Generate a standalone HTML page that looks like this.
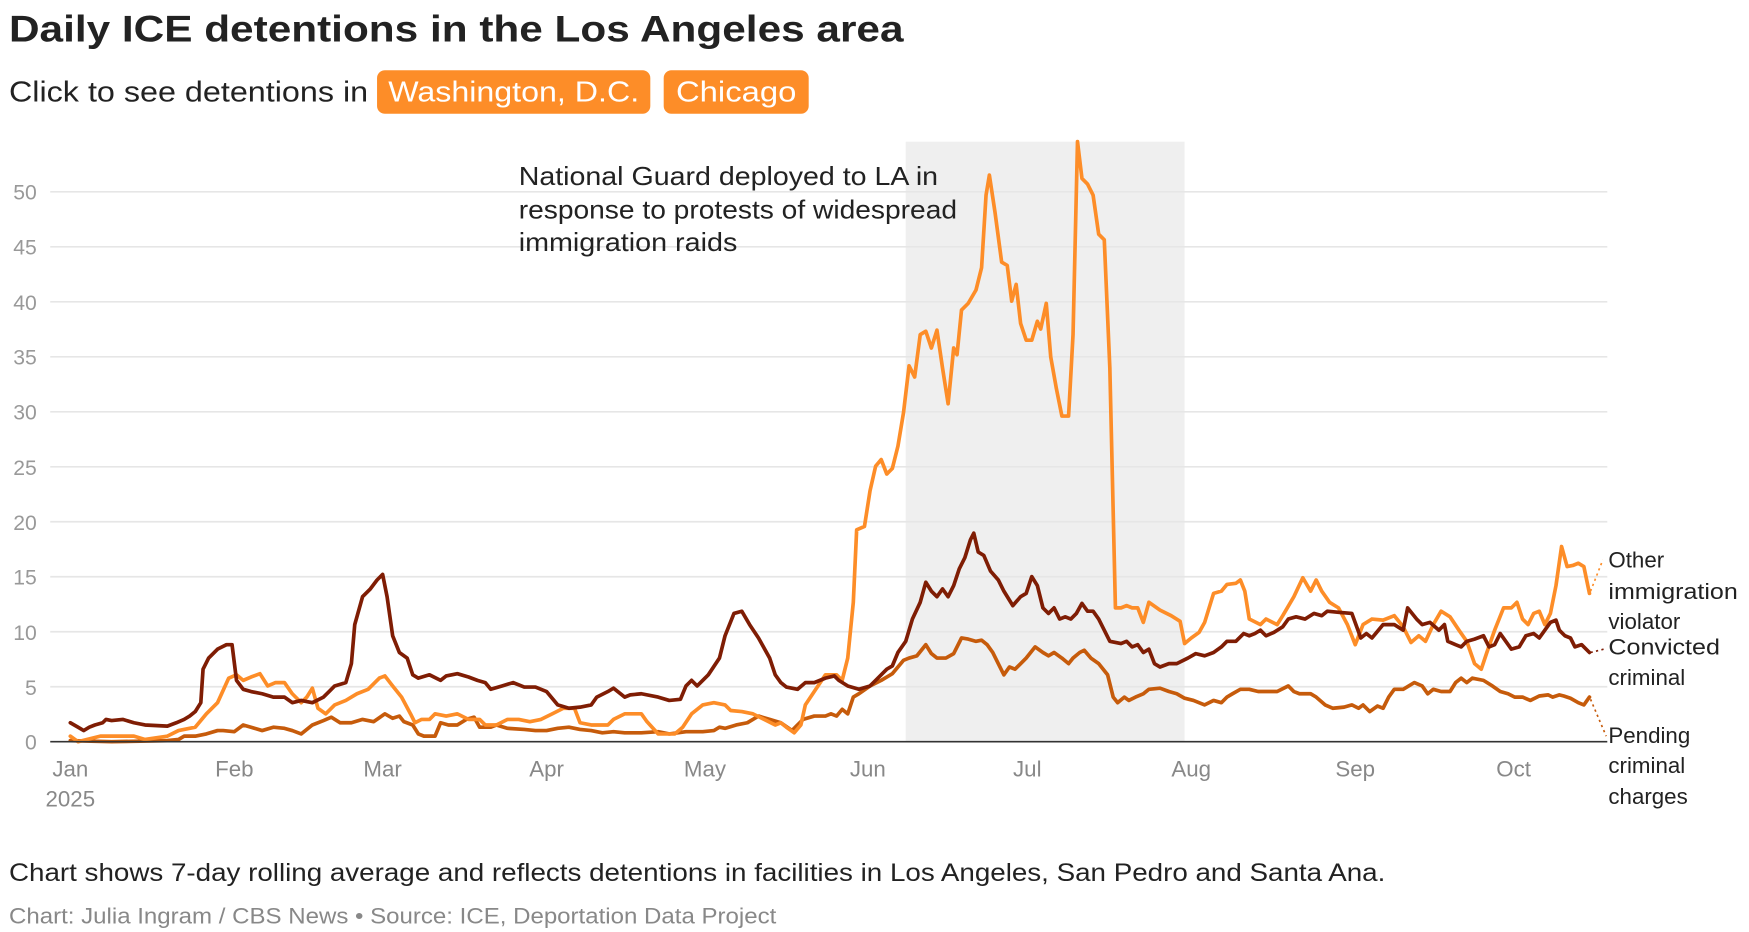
<!DOCTYPE html>
<html><head><meta charset="utf-8"><style>html,body{margin:0;padding:0;background:#fff}svg{display:block}</style></head>
<body>
<svg width="1749" height="932" viewBox="0 0 1568 835.6" xmlns="http://www.w3.org/2000/svg" font-family="'Liberation Sans', sans-serif">
<text x="8" y="37" font-size="33" font-weight="bold" fill="#222" textLength="802" lengthAdjust="spacingAndGlyphs">Daily ICE detentions in the Los Angeles area</text>
<text x="8" y="91" font-size="26" fill="#222" textLength="322" lengthAdjust="spacingAndGlyphs">Click to see detentions in</text>
<rect x="338" y="63" width="245" height="39" rx="7" fill="#fd8d28"/>
<text x="460.5" y="91" font-size="26" fill="#fff" text-anchor="middle" textLength="225" lengthAdjust="spacingAndGlyphs">Washington, D.C.</text>
<rect x="595" y="63" width="130" height="39" rx="7" fill="#fd8d28"/>
<text x="660" y="91" font-size="26" fill="#fff" text-anchor="middle" textLength="108" lengthAdjust="spacingAndGlyphs">Chicago</text>

<rect x="812" y="127" width="250" height="538" fill="#efefef"/>
<g stroke="#e6e6e6" stroke-width="1.5">
<line x1="45" x2="1441" y1="172" y2="172"/><line x1="45" x2="1441" y1="221.3" y2="221.3"/>
<line x1="45" x2="1441" y1="270.6" y2="270.6"/><line x1="45" x2="1441" y1="319.9" y2="319.9"/>
<line x1="45" x2="1441" y1="369.2" y2="369.2"/><line x1="45" x2="1441" y1="418.5" y2="418.5"/>
<line x1="45" x2="1441" y1="467.8" y2="467.8"/><line x1="45" x2="1441" y1="517.1" y2="517.1"/>
<line x1="45" x2="1441" y1="566.4" y2="566.4"/><line x1="45" x2="1441" y1="615.7" y2="615.7"/>
</g>
<g font-size="19" fill="#999" text-anchor="end">
<text x="33" y="179">50</text><text x="33" y="228">45</text><text x="33" y="278">40</text>
<text x="33" y="327">35</text><text x="33" y="376">30</text><text x="33" y="426">25</text>
<text x="33" y="475">20</text><text x="33" y="524">15</text><text x="33" y="574">10</text>
<text x="33" y="623">5</text><text x="33" y="672">0</text>
</g>
<g font-size="20" fill="#888" text-anchor="middle">
<text x="63" y="696">Jan</text><text x="63" y="723">2025</text>
<text x="210" y="696">Feb</text><text x="343" y="696">Mar</text><text x="490" y="696">Apr</text>
<text x="632" y="696">May</text><text x="778" y="696">Jun</text><text x="921" y="696">Jul</text>
<text x="1068" y="696">Aug</text><text x="1215" y="696">Sep</text><text x="1357" y="696">Oct</text>
</g>
<g font-size="23" fill="#222">
<text x="465" y="166" textLength="376" lengthAdjust="spacingAndGlyphs">National Guard deployed to LA in</text>
<text x="465" y="196" textLength="393" lengthAdjust="spacingAndGlyphs">response to protests of widespread</text>
<text x="465" y="225" textLength="196" lengthAdjust="spacingAndGlyphs">immigration raids</text>
</g>

<g fill="none" stroke-width="3.3" stroke-linejoin="round" stroke-linecap="round">
<polyline stroke="#c65b0b" points="63,664 100,665 150,664 160,663 165,660 175,660 185,658 195,655 200,655 210,656 218,650 225,652 235,655 245,652 255,653 262,655 270,658 280,650 290,646 297,643 305,648 315,648 325,645 335,647 345,640 352,644 358,642 362,647 370,650 375,658 380,660 390,660 395,648 402,650 410,650 418,645 425,643 430,652 440,652 445,650 455,653 470,654 480,655 490,655 500,653 510,652 520,654 530,655 540,657 550,656 560,657 575,657 590,656 600,658 615,656 630,656 640,655 645,652 650,653 660,650 670,648 680,642 690,645 700,648 710,655 715,650 720,645 730,642 740,642 745,640 750,642 755,636 760,640 765,625 770,622 780,615 790,610 800,604 810,592 815,590 822,588 830,578 835,586 840,590 848,590 855,586 862,572 868,573 875,575 880,574 885,578 890,585 895,595 900,605 905,598 910,600 915,595 920,590 928,580 935,585 940,588 945,585 952,590 958,595 962,590 968,585 972,583 978,590 985,595 993,605 998,625 1002,630 1008,625 1012,628 1018,625 1025,622 1030,618 1040,617 1048,620 1055,622 1062,626 1070,628 1075,630 1080,632 1088,628 1095,630 1100,625 1105,622 1112,618 1120,618 1128,620 1135,620 1145,620 1155,615 1160,620 1165,622 1175,622 1180,625 1188,632 1195,635 1205,634 1212,632 1218,635 1222,632 1228,638 1235,633 1240,635 1245,625 1250,618 1258,618 1268,612 1275,615 1280,622 1285,618 1292,620 1300,620 1305,612 1310,608 1315,612 1320,608 1330,610 1338,615 1345,620 1352,622 1358,625 1365,625 1372,628 1380,624 1388,623 1392,625 1398,623 1402,624 1408,626 1415,630 1420,632 1425,625"/>
<polyline stroke="#fd8d28" points="63,660 70,665 90,660 120,660 130,663 150,660 160,655 175,652 185,640 195,630 205,608 212,605 218,610 225,607 233,604 240,615 247,612 255,612 262,622 270,630 275,625 280,617 285,635 292,640 300,632 310,628 320,622 330,618 340,608 345,606 352,615 360,625 368,640 372,648 378,645 385,645 390,640 400,642 410,640 420,645 430,645 435,650 445,650 455,645 465,645 475,647 485,645 495,640 505,635 515,635 520,648 530,650 545,650 550,645 560,640 575,640 580,647 590,658 605,658 612,652 620,640 630,632 640,630 650,632 655,637 665,638 675,640 685,645 695,650 700,648 705,652 712,657 718,650 722,632 730,620 740,605 750,605 755,610 760,590 765,540 768,475 775,472 780,440 785,418 790,412 795,425 800,420 805,400 810,370 815,328 820,338 825,300 830,297 835,312 840,296 845,330 850,362 855,312 858,318 862,278 868,272 875,260 880,240 884,175 887,157 892,190 898,235 903,238 907,270 911,255 915,290 920,305 925,305 930,288 933,295 938,272 942,320 947,348 952,373 958,373 962,300 966,127 970,160 975,165 980,175 985,210 990,215 995,330 1000,545 1005,545 1010,543 1015,545 1020,545 1025,558 1030,540 1040,547 1050,552 1058,557 1062,577 1068,572 1075,567 1080,558 1088,532 1095,530 1100,524 1108,523 1112,520 1116,530 1120,555 1130,560 1135,555 1145,560 1150,552 1160,535 1168,518 1175,530 1180,520 1185,530 1192,540 1200,545 1208,560 1215,578 1222,560 1230,555 1240,556 1250,552 1258,562 1265,576 1272,570 1278,575 1285,560 1292,548 1300,553 1308,565 1315,575 1322,595 1328,600 1333,585 1340,565 1348,545 1355,545 1360,540 1365,555 1370,560 1375,550 1380,548 1385,560 1390,550 1395,525 1400,490 1405,508 1410,507 1415,505 1420,508 1425,532"/>
<polyline stroke="#7f1d04" points="63,648 70,652 75,655 80,652 85,650 92,648 95,645 100,646 110,645 120,648 130,650 150,651 158,648 165,645 170,642 175,638 180,630 182,600 187,590 195,582 203,578 208,578 212,610 218,618 225,620 235,622 245,625 255,625 262,630 270,628 280,630 290,625 295,620 300,615 310,612 315,595 318,560 325,535 332,528 338,520 343,515 347,535 352,570 358,585 365,590 370,605 375,608 385,605 395,610 400,606 410,604 420,607 428,610 435,612 440,618 450,615 460,612 470,616 480,616 490,620 500,632 510,635 520,634 530,632 535,625 545,620 550,617 560,625 565,623 575,622 590,625 600,628 610,627 615,615 620,610 625,615 635,605 645,590 650,570 658,550 665,548 672,560 680,572 690,590 695,605 700,612 705,616 715,618 722,612 730,612 740,608 748,606 752,610 760,615 770,618 780,615 785,610 790,605 795,600 800,597 805,585 812,575 818,555 825,540 830,522 835,530 840,535 845,528 850,535 855,525 860,510 865,500 870,484 873,478 877,495 882,498 888,512 895,520 900,530 908,543 915,535 920,532 925,517 930,525 935,545 940,550 945,545 950,555 955,553 960,555 965,550 970,541 975,548 980,548 985,555 990,565 995,575 1005,577 1010,575 1015,580 1020,578 1025,585 1030,582 1035,595 1040,598 1048,595 1055,595 1065,590 1072,586 1080,588 1088,585 1095,580 1100,575 1108,575 1115,568 1120,570 1125,568 1130,565 1135,570 1142,567 1150,562 1155,555 1162,553 1170,555 1178,550 1185,552 1190,548 1200,549 1212,550 1220,572 1225,568 1230,572 1240,560 1250,560 1258,565 1262,545 1270,555 1275,560 1282,558 1290,565 1295,560 1298,575 1305,578 1310,580 1315,575 1322,573 1330,570 1335,580 1340,578 1345,568 1355,582 1362,580 1368,570 1375,568 1380,572 1385,565 1390,558 1395,556 1398,565 1403,570 1408,572 1412,580 1418,578 1425,585"/>
</g>
<line x1="45" x2="1441" y1="665" y2="665" stroke="#333" stroke-width="1.5"/>
<g fill="none" stroke-width="1.5" stroke-dasharray="2,3">
<line x1="1426" y1="530" x2="1437" y2="502" stroke="#fd8d28"/>
<line x1="1426" y1="585" x2="1438" y2="582" stroke="#7f1d04"/>
<line x1="1426" y1="627" x2="1440" y2="660" stroke="#c65b0b"/>
</g>
<g font-size="20" fill="#222">
<text x="1442" y="509">Other</text><text x="1442" y="537" textLength="116" lengthAdjust="spacingAndGlyphs">immigration</text><text x="1442" y="564">violator</text>
<text x="1442" y="587" textLength="100" lengthAdjust="spacingAndGlyphs">Convicted</text><text x="1442" y="614">criminal</text>
<text x="1442" y="666">Pending</text><text x="1442" y="693">criminal</text><text x="1442" y="721">charges</text>
</g>
<text x="8" y="790" font-size="22" fill="#222" textLength="1234" lengthAdjust="spacingAndGlyphs">Chart shows 7-day rolling average and reflects detentions in facilities in Los Angeles, San Pedro and Santa Ana.</text>
<text x="8" y="828" font-size="20" fill="#888" textLength="688" lengthAdjust="spacingAndGlyphs">Chart: Julia Ingram / CBS News • Source: ICE, Deportation Data Project</text>
</svg>
</body></html>
